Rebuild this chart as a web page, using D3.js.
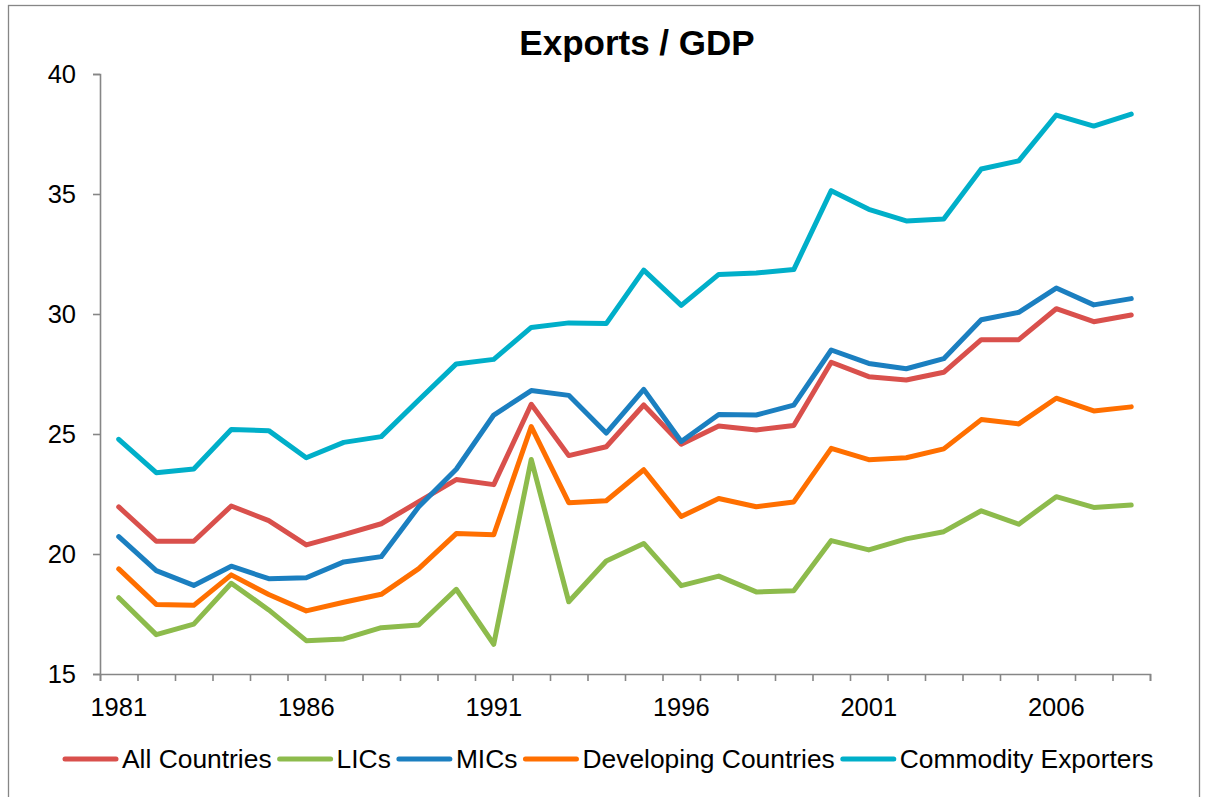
<!DOCTYPE html>
<html>
<head>
<meta charset="utf-8">
<script src="https://cdn.jsdelivr.net/npm/d3@7"></script>
<style>
  html, body { margin: 0; padding: 0; background: #fff; }
  svg { display: block; font-family: "Liberation Sans", Arial, sans-serif; }
</style>
</head>
<body>
<svg id="chart" width="1207" height="797"></svg>
<script>
// Exports as a share of GDP, 1981–2008, by country group
const years = d3.range(1981, 2009);
const yTicks = [15, 20, 25, 30, 35, 40];
const labelYears = [1981, 1986, 1991, 1996, 2001, 2006];

const allCountries = [21.96, 20.53, 20.53, 22.00, 21.39, 20.38, 20.81, 21.26, 22.18, 23.10,
  22.89, 26.24, 24.10, 24.47, 26.21, 24.57, 25.33, 25.17, 25.35, 27.99,
  27.39, 27.25, 27.57, 28.93, 28.93, 30.22, 29.68, 29.96];
const lics = [18.18, 16.64, 17.08, 18.78, 17.67, 16.39, 16.46, 16.93, 17.04, 18.53,
  16.24, 23.94, 18.01, 19.71, 20.44, 18.68, 19.08, 18.42, 18.47, 20.56,
  20.17, 20.63, 20.93, 21.80, 21.24, 22.39, 21.94, 22.04];
const mics = [20.72, 19.31, 18.69, 19.49, 18.97, 19.01, 19.67, 19.89, 21.97, 23.53,
  25.79, 26.81, 26.61, 25.04, 26.86, 24.69, 25.81, 25.79, 26.20, 28.50,
  27.94, 27.72, 28.14, 29.76, 30.07, 31.08, 30.38, 30.64];
const developing = [19.38, 17.90, 17.86, 19.13, 18.31, 17.63, 17.99, 18.32, 19.39, 20.85,
  20.80, 25.31, 22.14, 22.22, 23.51, 21.56, 22.31, 21.97, 22.17, 24.40,
  23.93, 24.01, 24.38, 25.60, 25.42, 26.49, 25.96, 26.13];
const commodity = [24.78, 23.39, 23.54, 25.19, 25.14, 24.01, 24.65, 24.89, 26.42, 27.92,
  28.11, 29.44, 29.63, 29.60, 31.83, 30.36, 31.65, 31.71, 31.85, 35.14,
  34.36, 33.88, 33.96, 36.04, 36.38, 38.29, 37.83, 38.33];

const seriesNames = ["All Countries", "LICs", "MICs", "Developing Countries", "Commodity Exporters"];
const seriesValues = [allCountries, lics, mics, developing, commodity];
const seriesColors = ["#d9504c", "#8dbb4c", "#1b7fc0", "#ff6f00", "#00afc9"];

const svg = d3.select("#chart");
const axisColor = "#868686";

// outer frame
svg.append("rect")
  .attr("x", 8.5).attr("y", 5.5)
  .attr("width", 1191).attr("height", 900)
  .attr("fill", "none").attr("stroke", axisColor).attr("stroke-width", 1.3);

// title
svg.append("text")
  .attr("x", 637).attr("y", 55)
  .attr("text-anchor", "middle")
  .attr("font-weight", "bold")
  .attr("font-size", 35)
  .attr("fill", "#000")
  .text("Exports / GDP");

// scales
const plotLeft = 100, plotRight = 1150, plotTop = 74, plotBottom = 674;
const x = d3.scaleBand().domain(years).range([plotLeft, plotRight]).padding(0);
const xBound = d3.scaleLinear().domain([0, years.length]).range([plotLeft, plotRight]);
const y = d3.scaleLinear().domain([15, 40]).range([plotBottom, plotTop]);
const cx = yr => x(yr) + x.bandwidth() / 2;

// y axis
const gy = svg.append("g")
  .attr("transform", `translate(${plotLeft},0)`)
  .call(d3.axisLeft(y).tickValues(yTicks).tickSize(7).tickPadding(17).tickFormat(d3.format("d")));
gy.select(".domain").attr("stroke", axisColor).attr("stroke-width", 1.6);
gy.selectAll(".tick line").attr("stroke", axisColor).attr("stroke-width", 1.6);
gy.selectAll(".tick text")
  .attr("font-size", 25.5).attr("fill", "#000")
  .attr("font-family", "\"Liberation Sans\", Arial, sans-serif");

// x axis: tick marks at category boundaries
const gxTicks = svg.append("g")
  .attr("transform", `translate(0,${plotBottom})`)
  .call(d3.axisBottom(xBound).tickValues(d3.range(years.length + 1)).tickSize(7).tickFormat(""));
gxTicks.select(".domain").attr("stroke", axisColor).attr("stroke-width", 1.6);
gxTicks.selectAll(".tick line").attr("stroke", axisColor).attr("stroke-width", 1.6);

// x axis: labels centred in categories, every fifth year
const gxLabels = svg.append("g")
  .attr("transform", `translate(0,${plotBottom})`)
  .call(d3.axisBottom(x).tickValues(labelYears).tickSize(0).tickPadding(24));
gxLabels.select(".domain").remove();
gxLabels.selectAll(".tick text")
  .attr("font-size", 25.5).attr("fill", "#000")
  .attr("font-family", "\"Liberation Sans\", Arial, sans-serif");

// series lines
const line = d3.line()
  .x((d, i) => cx(years[i]))
  .y(d => y(d));

svg.append("g").selectAll("path")
  .data(seriesValues)
  .join("path")
  .attr("d", d => line(d))
  .attr("fill", "none")
  .attr("stroke", (d, i) => seriesColors[i])
  .attr("stroke-width", 5)
  .attr("stroke-linejoin", "round")
  .attr("stroke-linecap", "round");

// legend
const legend = svg.append("g").attr("transform", "translate(0,759)");
let lx = 65;
seriesNames.forEach((name, i) => {
  legend.append("line")
    .attr("x1", lx).attr("x2", lx + 51)
    .attr("y1", 0).attr("y2", 0)
    .attr("stroke", seriesColors[i])
    .attr("stroke-width", 5)
    .attr("stroke-linecap", "round");
  const t = legend.append("text")
    .attr("x", lx + 57).attr("y", 0)
    .attr("dy", "0.35em")
    .attr("font-size", 26.4)
    .attr("fill", "#000")
    .text(name);
  lx += 57 + t.node().getComputedTextLength() + 8;
});
</script>
</body>
</html>
